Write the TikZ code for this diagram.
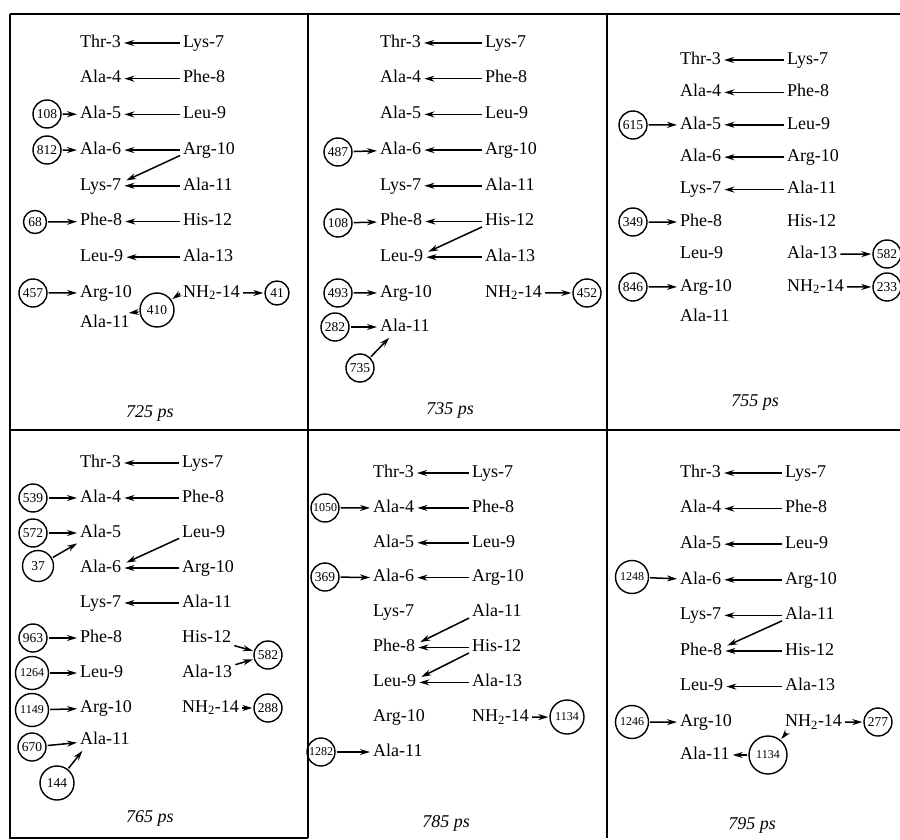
\documentclass[tikz,border=0pt]{standalone}
\usepackage{fontspec}
\setmainfont{Liberation Serif}
\usepackage{tikz}
\usetikzlibrary{arrows.meta}

\begin{document}
\begin{tikzpicture}[x=1pt, y=-1pt,
  res/.style={anchor=west, inner sep=2pt, text height=12pt, text depth=3.5pt, font=\fontsize{18}{20}\selectfont},
  num/.style={draw, circle, line width=1.4pt, inner sep=0.5pt, minimum size=28pt, font=\fontsize{13.5}{14}\selectfont},
  numw/.style={num, font=\fontsize{12}{12}\selectfont},
  bigc/.style={minimum size=34pt},
  arr/.style={-{Stealth[length=10pt,width=6pt]}, line width=1.5pt, shorten <=1pt, shorten >=1pt},
  frame/.style={line width=1.6pt},
  stamp/.style={font=\fontsize{18}{20}\selectfont\itshape}]
\useasboundingbox (0,0) rectangle (900,840);
\clip (0,0) rectangle (900,840);

% panel frames
\draw[frame] (10,14) -- (900,14);
\draw[frame] (10,430) -- (900,430);
\draw[frame] (10,14) -- (10,838) -- (308,838);
\draw[frame] (308,14) -- (308,838);
\draw[frame] (607,14) -- (607,838);

% residue columns of the six panels
\foreach \p/\xl/\xr/\yo/\dy/\yk in {a/78/181/43/35.7/323, b/378/483/43/35.7/327, c/678/785/60/32.4/317,
                                    d/78/180/463/35/740, e/371/470/473/34.9/752, f/678/783/473/35.6/755} {
  \foreach \t [count=\i] in {Thr-3,Ala-4,Ala-5,Ala-6,Lys-7,Phe-8,Leu-9,Arg-10}
    \node[res] (L\p\i) at (\xl,\yo+\dy*\i-\dy) {\t};
  \node[res] (L\p9) at (\xl,\yk) {Ala-11};
  \foreach \t [count=\i] in {Lys-7,Phe-8,Leu-9,Arg-10,Ala-11,His-12,Ala-13,NH\textsubscript{2}-14}
    \node[res] (R\p\i) at (\xr,\yo+\dy*\i-\dy) {\t};
}

% straight hydrogen bonds
\foreach \p/\rows in {a/{1,...,7}, b/{1,...,7}, c/{1,...,5}, d/{1,2,4,5}, e/{1,2,3,4,6,7}, f/{1,...,7}}
  \foreach \i in \rows
    \draw[arr] (R\p\i) -- (L\p\i);

% bifurcated bonds
\draw[arr] ([yshift=-5pt]Ra4.west) -- ([shift={(2pt,5pt)}]La5.east);
\draw[arr] ([yshift=-5pt]Rb6.west) -- ([shift={(2pt,5pt)}]Lb7.east);
\draw[arr] ([yshift=-5pt]Rd3.west) -- ([shift={(2pt,5pt)}]Ld4.east);
\draw[arr] ([yshift=-5pt]Re5.west) -- ([shift={(2pt,5pt)}]Le6.east);
\draw[arr] ([yshift=-5pt]Re6.west) -- ([shift={(2pt,5pt)}]Le7.east);
\draw[arr] ([yshift=-5pt]Rf5.west) -- ([shift={(2pt,5pt)}]Lf6.east);

% 725 ps
\node[num] (a108) at (47,114) {108};
\node[num] (a812) at (47,150) {812};
\node[num, minimum size=23pt] (a68) at (35,222) {68};
\node[num] (a457) at (33,293) {457};
\node[num, bigc] (a410) at (157,310) {410};
\node[num, minimum size=24pt] (a41) at (277,293) {41};
\draw[arr] (a108) -- (La3);
\draw[arr] (a812) -- (La4);
\draw[arr] (a68) -- (La6);
\draw[arr] (a457) -- (La8);
\draw[arr] (Ra8) -- (a41);
\draw[arr] (Ra8.west) -- (a410);
\draw[arr] (a410) -- ([xshift=-4pt]La9.north east);
\node[stamp] (ta) at (150,413) {725 ps};

% 735 ps
\node[num] (b487) at (338,152) {487};
\node[num] (b108) at (338,223) {108};
\node[num] (b493) at (338,293) {493};
\node[num] (b282) at (335,327) {282};
\node[num] (b735) at (360,368) {735};
\node[num] (b452) at (587,293) {452};
\draw[arr] (b487) -- (Lb4);
\draw[arr] (b108) -- (Lb6);
\draw[arr] (b493) -- (Lb8);
\draw[arr] (b282) -- (Lb9);
\draw[arr] (b735) -- ([xshift=12pt]Lb9.south west);
\draw[arr] (Rb8) -- (b452);
\node[stamp] (tb) at (450,410) {735 ps};

% 755 ps
\node[num] (c615) at (633,125) {615};
\node[num] (c349) at (633,222) {349};
\node[num] (c846) at (633,287) {846};
\node[num] (c582) at (887,254) {582};
\node[num] (c233) at (887,287) {233};
\draw[arr] (c615) -- (Lc3);
\draw[arr] (c349) -- (Lc6);
\draw[arr] (c846) -- (Lc8);
\draw[arr] (Rc7) -- (c582);
\draw[arr] (Rc8) -- (c233);
\node[stamp] (tc) at (755,403) {755 ps};

% 765 ps
\node[num] (d539) at (33,498) {539};
\node[num] (d572) at (33,533) {572};
\node[num, minimum size=31pt] (d37) at (38,566) {37};
\node[num] (d963) at (33,638) {963};
\node[numw, minimum size=33pt] (d1264) at (32,673) {1264};
\node[numw, minimum size=33pt] (d1149) at (32,710) {1149};
\node[num] (d670) at (32,747) {670};
\node[num, bigc] (d144) at (57,783) {144};
\node[num] (d582) at (268,655) {582};
\node[num] (d288) at (268,708) {288};
\draw[arr] (d539) -- (Ld2);
\draw[arr] (d572) -- (Ld3);
\draw[arr] (d37) -- (Ld3.south west);
\draw[arr] (d963) -- (Ld6);
\draw[arr] (d1264) -- (Ld7);
\draw[arr] (d1149) -- (Ld8);
\draw[arr] (d670) -- (Ld9);
\draw[arr] (d144) -- ([xshift=5pt]Ld9.south west);
\draw[arr] (Rd6) -- (d582);
\draw[arr] (Rd7) -- (d582);
\draw[arr] (Rd8) -- (d288);
\node[stamp] (td) at (150,818) {765 ps};

% 785 ps
\node[numw] (e1050) at (325,508) {1050};
\node[num] (e369) at (325,577) {369};
\node[numw] (e1282) at (321,752) {1282};
\node[numw, bigc] (e1134) at (567,717) {1134};
\draw[arr] (e1050) -- (Le2);
\draw[arr] (e369) -- (Le4);
\draw[arr] (e1282) -- (Le9);
\draw[arr] (Re8) -- (e1134);
\node[stamp] (te) at (446,823) {785 ps};

% 795 ps
\node[numw, minimum size=33pt] (f1248) at (632,577) {1248};
\node[numw, minimum size=33pt] (f1246) at (632,722) {1246};
\node[num] (f277) at (878,722) {277};
\node[numw, minimum size=38pt] (f1134) at (768,755) {1134};
\draw[arr] (f1248) -- (Lf4);
\draw[arr] (f1246) -- (Lf8);
\draw[arr] (Rf8) -- (f277);
\draw[arr] ([xshift=4pt]Rf8.south west) -- (f1134);
\draw[arr] (f1134) -- (Lf9);
\node[stamp] (tf) at (752,825) {795 ps};
\end{tikzpicture}
\end{document}
